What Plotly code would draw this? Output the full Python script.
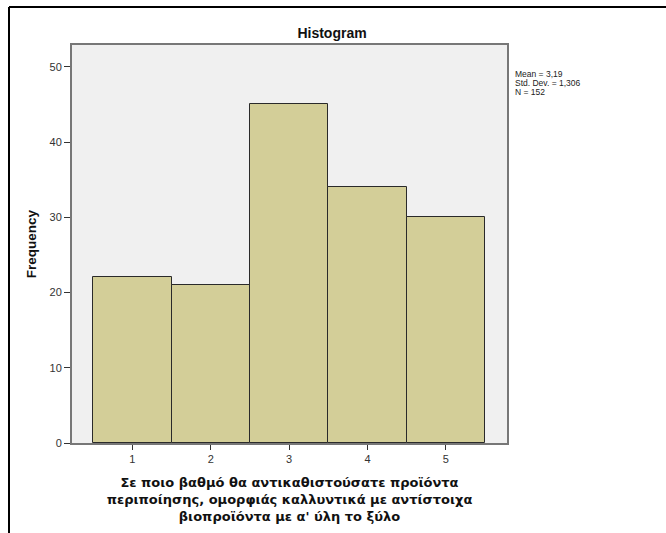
import plotly.graph_objects as go

categories = [1, 2, 3, 4, 5]
frequencies = [22, 21, 45, 34, 30]
y_ticks = [0, 10, 20, 30, 40, 50]
title_text = "Histogram"
x_title = ("Σε ποιο βαθμό θα αντικαθιστούσατε προϊόντα<br>"
           "περιποίησης, ομορφιάς καλλυντικά με αντίστοιχα<br>"
           "βιοπροϊόντα με α' ύλη το ξύλο")
stats_lines = ["Mean = 3,19", "Std. Dev. = 1,306", "N = 152"]

W, H = 666, 533
L, R, T, B = 72, 159, 45, 90
pw, ph = W - L - R, H - T - B

fig = go.Figure()
fig.add_trace(go.Bar(
    x=categories, y=frequencies, width=1,
    marker=dict(color="#D3CE98", line=dict(color="#2a2a2a", width=1)),
    hoverinfo="x+y",
))

font = "Liberation Sans, Arial, sans-serif"
fig.update_layout(
    width=W, height=H,
    margin=dict(l=L, r=R, t=T, b=B),
    paper_bgcolor="white",
    plot_bgcolor="#F0F0F0",
    showlegend=False,
    font=dict(family=font, color="#222"),
    title=dict(text="<b>" + title_text + "</b>", x=332 / W, xanchor="center",
               y=1 - 33 / H, yanchor="middle",
               font=dict(size=14, color="#111", family=font)),
    bargap=0,
)
fig.update_xaxes(
    range=[0.23, 5.78], tickvals=categories, ticktext=[str(c) for c in categories],
    ticks="outside", ticklen=5, tickcolor="#333", tickwidth=1,
    showline=True, linecolor="#777", linewidth=2, mirror=True,
    showgrid=False, zeroline=False,
    tickfont=dict(size=11, color="#333"),
    title=dict(text="<b>" + x_title + "</b>",
               font=dict(size=13, color="#111", family="DejaVu Sans, Verdana, sans-serif"),
               standoff=14),
)
fig.update_yaxes(
    range=[0, 52.9], tickvals=y_ticks,
    ticks="outside", ticklen=6, tickcolor="#333", tickwidth=1,
    showline=True, linecolor="#777", linewidth=2, mirror=True,
    showgrid=False, zeroline=False,
    tickfont=dict(size=11, color="#333"),
    title=dict(text="<b>Frequency</b>", font=dict(size=13.5, color="#111"), standoff=10),
)

# stats text
for i, s in enumerate(stats_lines):
    ypix = 73.5 + i * 9
    fig.add_annotation(
        text=s, xref="paper", yref="paper",
        x=(513 - L) / pw, y=1 - (ypix - T) / ph,
        xanchor="left", yanchor="middle", showarrow=False,
        font=dict(size=8.5, color="#222", family=font),
    )

# outer frame (left and top edges)
xl = (9 - L) / pw
yt = 1 + (T - 7) / ph
fig.add_shape(type="line", xref="paper", yref="paper", x0=xl, x1=xl, y0=yt, y1=-0.3,
              line=dict(color="black", width=2))
fig.add_shape(type="line", xref="paper", yref="paper", x0=xl, x1=1.5, y0=yt, y1=yt,
              line=dict(color="black", width=2))

fig.write_html("out.html", config={"displayModeBar": False},
               post_script="document.body.style.margin='0';document.body.style.overflow='hidden';")
